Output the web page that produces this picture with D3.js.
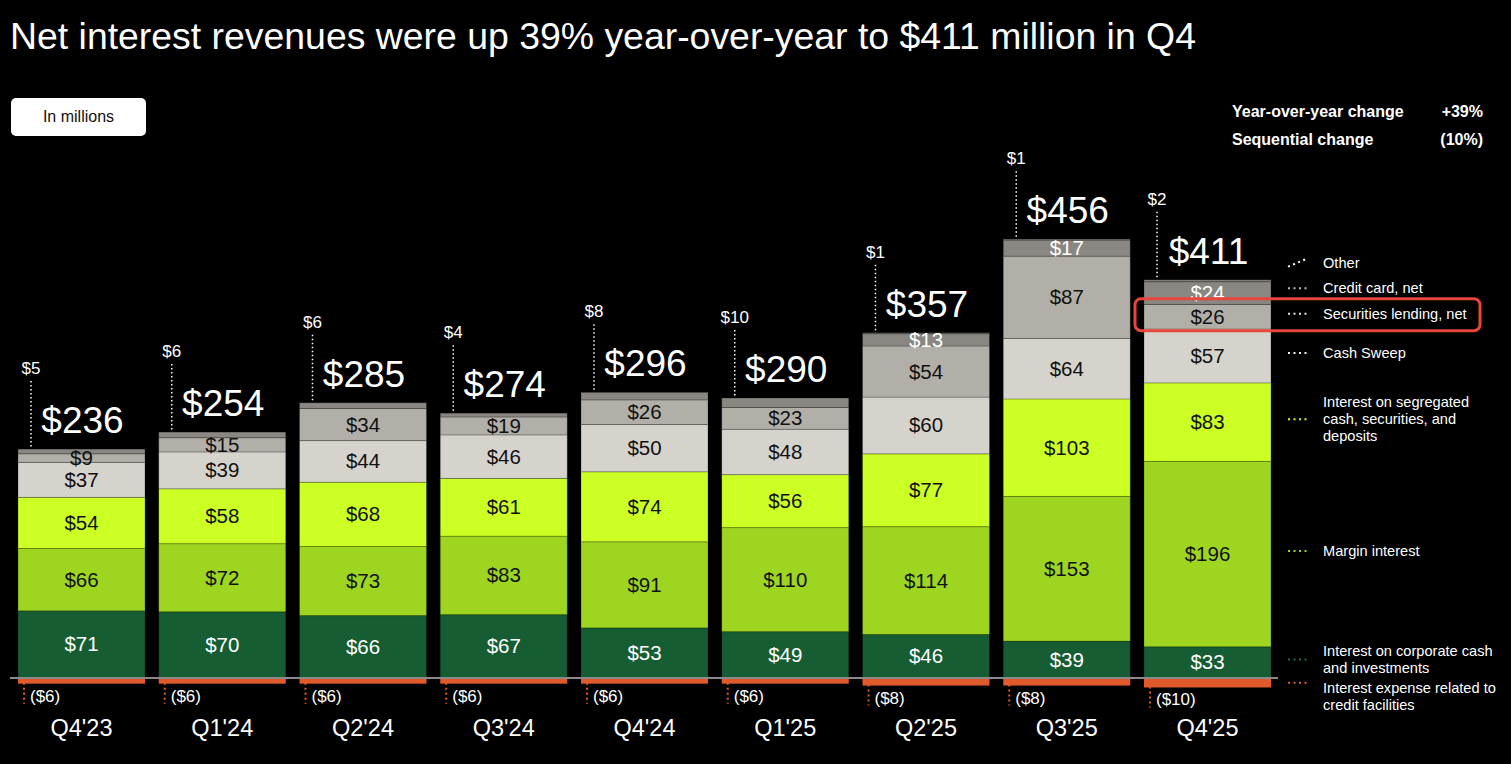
<!DOCTYPE html>
<html>
<head>
<meta charset="utf-8">
<script src="https://cdn.jsdelivr.net/npm/d3@7"></script>
<style>
  html, body { margin: 0; padding: 0; background: #000; }
  svg { display: block; font-family: "Liberation Sans", Arial, Helvetica, sans-serif; }
</style>
</head>
<body>
<svg id="chart" width="1511" height="764"></svg>
<script>
// ---------------- DATA ----------------
const quarters = ["Q4'23", "Q1'24", "Q2'24", "Q3'24", "Q4'24", "Q1'25", "Q2'25", "Q3'25", "Q4'25"];
const corporateCash     = [71, 70, 66, 67, 53, 49, 46, 39, 33];
const marginInterest    = [66, 72, 73, 83, 91, 110, 114, 153, 196];
const segregatedCash    = [54, 58, 68, 61, 74, 56, 77, 103, 83];
const cashSweep         = [37, 39, 44, 46, 50, 48, 60, 64, 57];
const securitiesLending = [9, 15, 34, 19, 26, 23, 54, 87, 26];
const creditCard        = [0, 0, 0, 0, 0, 0, 13, 17, 24];
const other             = [5, 6, 6, 4, 8, 10, 1, 1, 2];
const interestExpense   = [-6, -6, -6, -6, -6, -6, -8, -8, -10];
const totals            = [236, 254, 285, 274, 296, 290, 357, 456, 411];

const seriesKeys = ["corporate", "margin", "segregated", "sweep", "secLending", "creditCard", "other"];
const seriesNames = {
  other: ["Other"],
  creditCard: ["Credit card, net"],
  secLending: ["Securities lending, net"],
  sweep: ["Cash Sweep"],
  segregated: ["Interest on segregated", "cash, securities, and", "deposits"],
  margin: ["Margin interest"],
  corporate: ["Interest on corporate cash", "and investments"],
  expense: ["Interest expense related to", "credit facilities"]
};
const titleText = "Net interest revenues were up 39% year-over-year to $411 million in Q4";
const unitsText = "In millions";
const changeRows = [["Year-over-year change", "+39%"], ["Sequential change", "(10%)"]];

// ---------------- STYLE ----------------
const fill = {
  corporate: "#175d33", margin: "#9dd521", segregated: "#ccff24", sweep: "#d6d3cd",
  secLending: "#b2afa8", creditCard: "#8a8782", other: "#8a8782", expense: "#e05a2b"
};
const labelColor = {
  corporate: "#ffffff", margin: "#111", segregated: "#111", sweep: "#111",
  secLending: "#111", creditCard: "#ffffff"
};
const dotColor = {
  other: "#ffffff", creditCard: "#bdbab5", secLending: "#e6e4df", sweep: "#f2f0ec",
  segregated: "#ccff24", margin: "#9dd521", corporate: "#1d6e3d", expense: "#e05a2b"
};

// ---------------- BUILD ----------------
const rows = quarters.map((q, i) => ({
  q, corporate: corporateCash[i], margin: marginInterest[i], segregated: segregatedCash[i],
  sweep: cashSweep[i], secLending: securitiesLending[i], creditCard: creditCard[i], other: other[i],
  expense: interestExpense[i], total: totals[i]
}));

const svg = d3.select("#chart");

const x = d3.scaleBand().domain(quarters).range([18, 1271]).paddingInner(0.0977).paddingOuter(0);
const y = d3.scaleLinear().domain([0, 480]).range([678, 224]);

const stack = d3.stack().keys(seriesKeys);
const stacked = stack(rows);

// Title
svg.append("text").attr("x", 10).attr("y", 49).attr("fill", "#fff")
  .attr("font-size", 36.5).attr("textLength", 1186).attr("lengthAdjust", "spacingAndGlyphs")
  .text(titleText);

// In millions box
svg.append("rect").attr("x", 11).attr("y", 98).attr("width", 135).attr("height", 38)
  .attr("rx", 5).attr("fill", "#fff");
svg.append("text").attr("x", 78.5).attr("y", 122).attr("text-anchor", "middle")
  .attr("font-size", 16).attr("fill", "#111").text(unitsText);

// change table
changeRows.forEach((r, i) => {
  svg.append("text").attr("x", 1232).attr("y", 117 + i * 28).attr("font-size", 16)
    .attr("font-weight", "bold").attr("fill", "#fff").text(r[0]);
  svg.append("text").attr("x", 1483).attr("y", 117 + i * 28).attr("font-size", 16)
    .attr("font-weight", "bold").attr("fill", "#fff").attr("text-anchor", "end").text(r[1]);
});

// Bars
const gBars = svg.append("g");
stacked.forEach(layer => {
  const key = layer.key;
  gBars.selectAll(null).data(layer).join("rect")
    .attr("x", d => x(d.data.q))
    .attr("width", x.bandwidth())
    .attr("y", d => y(d[1]))
    .attr("height", d => Math.max(0, y(d[0]) - y(d[1])))
    .attr("fill", fill[key])
    .attr("stroke", d => (d[1] - d[0]) > 0 ? "rgba(0,0,0,0.22)" : "none")
    .attr("stroke-width", 1);
});

// Negative bars
gBars.selectAll(null).data(rows).join("rect")
  .attr("x", d => x(d.q)).attr("width", x.bandwidth())
  .attr("y", y(0)).attr("height", d => y(d.expense) - y(0))
  .attr("fill", fill.expense);

// Baseline
svg.append("line").attr("x1", 10).attr("x2", 1278).attr("y1", y(0)).attr("y2", y(0))
  .attr("stroke", "#8a8a8a").attr("stroke-width", 2);

// Segment labels
const labelKeys = ["corporate", "margin", "segregated", "sweep", "secLending", "creditCard"];
stacked.filter(l => labelKeys.includes(l.key)).forEach(layer => {
  svg.selectAll(null).data(layer.filter(d => d[1] - d[0] > 0)).join("text")
    .attr("x", d => x(d.data.q) + x.bandwidth() / 2)
    .attr("y", d => (y(d[0]) + y(d[1])) / 2 + 7)
    .attr("text-anchor", "middle").attr("font-size", 20.5)
    .attr("fill", labelColor[layer.key])
    .text(d => "$" + (d[1] - d[0]));
});

// Other labels with dotted leaders, and totals
const topOf = d => y(d.corporate + d.margin + d.segregated + d.sweep + d.secLending + d.creditCard + d.other);
rows.forEach(d => {
  const t = topOf(d);
  const lx = x(d.q) + 13;
  svg.append("text").attr("x", lx).attr("y", t - 75).attr("text-anchor", "middle")
    .attr("font-size", 17).attr("fill", "#fff").text("$" + d.other);
  svg.append("line").attr("x1", lx).attr("x2", lx).attr("y1", t - 68).attr("y2", t)
    .attr("stroke", "#fff").attr("stroke-width", 1.5).attr("stroke-dasharray", "1.5 2.5");
  svg.append("text").attr("x", x(d.q) + x.bandwidth() / 2 + 1).attr("y", t - 16)
    .attr("text-anchor", "middle").attr("font-size", 37).attr("fill", "#fff")
    .text("$" + d.total);

  // negative label
  const nb = y(d.expense);
  const nx = x(d.q) + 6;
  svg.append("line").attr("x1", nx).attr("x2", nx).attr("y1", nb - 1).attr("y2", nb + 20)
    .attr("stroke", fill.expense).attr("stroke-width", 2).attr("stroke-dasharray", "2 3");
  svg.append("text").attr("x", x(d.q) + 12).attr("y", nb + 18).attr("font-size", 17)
    .attr("fill", "#fff").text("($" + Math.abs(d.expense) + ")");

  // category label
  svg.append("text").attr("x", x(d.q) + x.bandwidth() / 2).attr("y", y(0) + 58)
    .attr("text-anchor", "middle").attr("font-size", 23.5).attr("fill", "#fff").text(d.q);
});

// Legend, aligned with last bar's segments
const lastLayerCenters = {};
stacked.forEach(layer => {
  const d = layer[layer.length - 1];
  lastLayerCenters[layer.key] = (y(d[0]) + y(d[1])) / 2 - 3;
});
const legendOrder = ["other", "creditCard", "secLending", "sweep", "segregated", "margin", "corporate"];
const legendY = {};
for (let i = legendOrder.length - 1; i >= 0; i--) {
  const k = legendOrder[i];
  let v = lastLayerCenters[k];
  if (i < legendOrder.length - 1) v = Math.min(v, legendY[legendOrder[i + 1]] - 25.5);
  legendY[k] = v;
}
const lastRow = rows[rows.length - 1];
legendY.expense = (y(0) + y(lastRow.expense)) / 2;

const dotX1 = 1288, dotX2 = 1307, textX = 1323;
Object.keys(legendY).forEach(k => {
  const ly = legendY[k];
  const slant = k === "other" ? 4 : 0;
  svg.append("line").attr("x1", dotX1).attr("x2", dotX2)
    .attr("y1", ly + slant).attr("y2", ly - slant)
    .attr("stroke", dotColor[k]).attr("stroke-width", 2).attr("stroke-dasharray", "2 3.5");
  const lines = seriesNames[k];
  const lh = 17;
  const startCenter = k === "expense" ? ly + 5 : ly - (lines.length - 1) * lh / 2;
  lines.forEach((txt, j) => {
    svg.append("text").attr("x", textX).attr("y", startCenter + j * lh + 5)
      .attr("font-size", 14.6).attr("fill", "#fff").text(txt);
  });
});

// Highlight box around securities lending
svg.append("rect").attr("x", x(quarters[quarters.length - 1]) - 9)
  .attr("y", legendY.secLending - 15).attr("width", 1480 - (x(quarters[quarters.length - 1]) - 9))
  .attr("height", 32).attr("rx", 6).attr("fill", "none")
  .attr("stroke", "#e8453c").attr("stroke-width", 3);
</script>
</body>
</html>
